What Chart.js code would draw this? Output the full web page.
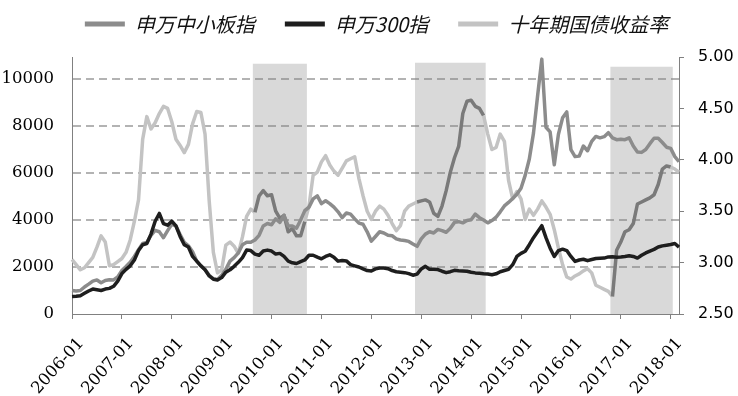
<!DOCTYPE html>
<html lang="zh">
<head>
  <meta charset="UTF-8" />
  <title>申万中小板指、申万300指与十年期国债收益率</title>
  <script src="https://cdn.jsdelivr.net/npm/chart.js@4"></script>
  <style>
    html, body { margin: 0; padding: 0; background: #fff; }
    #wrap { width: 738px; height: 396px; }
  </style>
</head>
<body>
  <div id="wrap"><canvas id="chart" width="738" height="396"></canvas></div>

  <script>
    // monthly categories, 2006-01 .. 2018-03
    const months = [];
    for (let y = 2006; y <= 2018; y++) {
      for (let m = 1; m <= 12; m++) {
        if (y === 2018 && m > 3) break;
        months.push(y + '-' + String(m).padStart(2, '0'));
      }
    }

    // 申万中小板指 (left axis)
    const smeIndex = [
      1000, 980, 1000, 1150, 1270, 1400, 1450, 1330, 1430, 1460, 1450, 1580,
      1850, 2020, 2200, 2450, 2740, 3000, 3050, 3350, 3560, 3500, 3250, 3550,
      3820, 3750, 3380, 3050, 2900, 2650, 2250, 2050, 1890, 1650, 1500, 1470,
      1650, 1900, 2250, 2400, 2600, 2950, 3050, 3050, 3150, 3350, 3750, 3850,
      3800, 4050, 3900, 4200, 3750, 3750, 3650, 4000, 4400, 4550, 4900, 5030,
      4700, 4820, 4700, 4550, 4350, 4100, 4300, 4250, 4050, 3870, 3820, 3500,
      3100, 3300, 3500, 3450, 3350, 3330, 3200, 3150, 3130, 3090, 2980, 2880,
      3200, 3400, 3500, 3450, 3600, 3550, 3480, 3650, 3900, 3930, 3880, 3980,
      4010, 4250, 4100, 4000, 3880, 3980, 4120, 4350, 4600, 4750, 4920, 5100,
      5350, 5900, 6600, 7700, 9300, 10850, 7950, 7750, 6350, 7650, 8350, 8600,
      7000, 6700, 6720, 7150, 6950, 7350, 7560, 7500, 7550, 7720, 7500, 7420,
      7440, 7420, 7500, 7150, 6900, 6880, 7000, 7250, 7480, 7480, 7300, 7100,
      7050, 6700, 6480
    ];

    // 申万300指 (left axis)
    const sw300 = [
      750, 760, 780, 880, 980, 1060, 1030, 1000, 1060, 1090, 1180, 1400,
      1720, 1900, 2050, 2300, 2700, 2950, 3000, 3400, 3950, 4280, 3850, 3780,
      3950, 3750, 3300, 2950, 2850, 2450, 2250, 2050, 1880, 1620, 1480, 1450,
      1550, 1780, 1880, 2030, 2200, 2400, 2720, 2700, 2550, 2500, 2680, 2720,
      2680, 2550, 2580, 2450, 2250, 2180, 2150, 2230, 2300, 2500, 2500, 2420,
      2350, 2450, 2520, 2420, 2250, 2280, 2260, 2100, 2050, 2000, 1920, 1850,
      1830, 1920, 1960, 1960, 1930, 1850, 1800, 1780, 1760, 1720, 1650, 1700,
      1920, 2030, 1900, 1900, 1890, 1820, 1760, 1800, 1860, 1840, 1830, 1820,
      1780, 1750, 1730, 1710, 1700, 1670, 1710, 1800, 1850, 1900, 2100, 2450,
      2580, 2670, 2950, 3250, 3500, 3760, 3250, 2800, 2450, 2700, 2760, 2700,
      2450, 2240, 2300, 2330, 2270, 2320, 2360, 2370, 2380, 2430, 2440, 2420,
      2430, 2450, 2480, 2450, 2380, 2500, 2600, 2680, 2750, 2850, 2900, 2930,
      2960, 3000, 2850
    ];

    // 十年期国债收益率, % (right axis)
    const bondYield = [
      3.03, 2.98, 2.93, 2.95, 3.00, 3.05, 3.15, 3.26, 3.20, 2.97, 2.98, 3.01,
      3.04, 3.10, 3.22, 3.40, 3.61, 4.20, 4.42, 4.30, 4.36, 4.45, 4.52, 4.50,
      4.37, 4.20, 4.14, 4.07, 4.15, 4.35, 4.47, 4.46, 4.25, 3.60, 3.10, 2.90,
      2.93, 3.17, 3.20, 3.16, 3.09, 3.25, 3.45, 3.52, 3.49, 3.65, 3.70, 3.65,
      3.66, 3.50, 3.43, 3.46, 3.30, 3.33, 3.26, 3.26, 3.40, 3.55, 3.85, 3.88,
      3.98, 4.04, 3.95, 3.89, 3.85, 3.92, 3.99, 4.01, 4.03, 3.82, 3.65, 3.50,
      3.42, 3.50, 3.55, 3.52, 3.46, 3.38, 3.31, 3.36, 3.50, 3.55, 3.57, 3.59,
      3.60, 3.61, 3.59, 3.48, 3.45, 3.55, 3.70, 3.88, 4.02, 4.13, 4.45, 4.57,
      4.58, 4.52, 4.50, 4.43, 4.25, 4.10, 4.12, 4.25, 4.18, 3.80, 3.62, 3.69,
      3.62, 3.42, 3.52, 3.46, 3.52, 3.60, 3.54, 3.47, 3.32, 3.14, 2.98, 2.86,
      2.84, 2.87, 2.89, 2.92, 2.94, 2.90, 2.78, 2.76, 2.74, 2.72, 2.67, 3.12,
      3.20, 3.30, 3.32, 3.38, 3.57, 3.59, 3.61, 3.63, 3.66, 3.76, 3.91, 3.94,
      3.93, 3.91, 3.88
    ];

    // shaded periods (first month, last month, top on left axis)
    const shadeFrom = ['2009-09', '2012-12', '2016-11'];
    const shadeTo = ['2010-09', '2014-04', '2018-01'];
    const shadeTop = [10650, 10700, 10520];

    const leftTicks = [0, 2000, 4000, 6000, 8000, 10000];
    const rightTicks = [2.5, 3.0, 3.5, 4.0, 4.5, 5.0];

    function shadeIndex(i) {
      for (let k = 0; k < shadeFrom.length; k++) {
        if (i >= months.indexOf(shadeFrom[k]) && i <= months.indexOf(shadeTo[k])) return k;
      }
      return -1;
    }

    // step area: full height inside a period, 0 outside
    const shadeData = months.map((m, i) => {
      const k = shadeIndex(i);
      return k >= 0 ? shadeTop[k] : 0;
    });

    const midGray = '#8c8c8c';
    const darkLine = '#1e1e1e';
    const lightGray = '#c3c3c3';
    const yieldInShade = '#7a7a7a';
    const axisColor = '#808080';

    const ctx = document.getElementById('chart').getContext('2d');

    const chart = new Chart(ctx, {
      type: 'line',
      data: {
        labels: months,
        datasets: [
          {
            label: '申万中小板指',
            data: smeIndex,
            yAxisID: 'y',
            borderColor: midGray,
            backgroundColor: midGray,
            borderWidth: 3.5,
            pointRadius: 0,
            borderJoinStyle: 'round',
            order: 1
          },
          {
            label: '申万300指',
            data: sw300,
            yAxisID: 'y',
            borderColor: darkLine,
            backgroundColor: darkLine,
            borderWidth: 3.5,
            pointRadius: 0,
            borderJoinStyle: 'round',
            order: 0
          },
          {
            label: '十年期国债收益率',
            data: bondYield,
            yAxisID: 'y1',
            borderColor: lightGray,
            backgroundColor: lightGray,
            borderWidth: 3.5,
            pointRadius: 0,
            borderJoinStyle: 'round',
            segment: {
              borderColor: c => (shadeIndex(c.p0DataIndex) >= 0 && shadeIndex(c.p1DataIndex) >= 0) ? yieldInShade : lightGray
            },
            order: 2
          },
          {
            label: 'shade',
            data: shadeData,
            yAxisID: 'y',
            stepped: 'middle',
            fill: 'origin',
            backgroundColor: 'rgba(128,128,128,0.3)',
            borderWidth: 0,
            pointRadius: 0,
            order: 3
          }
        ]
      },
      options: {
        responsive: false,
        animation: false,
        // negative right padding moves the legend centre right; y1 width compensates
        layout: { padding: { left: 0, right: -15, top: -16, bottom: 0 } },
        plugins: {
          legend: {
            position: 'top',
            labels: {
              boxWidth: 40,
              boxHeight: 5,
              padding: 30,
              color: '#111',
              font: { family: '"Noto Sans CJK SC", "Noto Sans", sans-serif', size: 20, style: 'italic' },
              generateLabels: c => Chart.defaults.plugins.legend.labels.generateLabels(c)
                .filter(item => item.datasetIndex < 3)
                .map(item => Object.assign(item, { lineWidth: 0 }))
                .sort((a, b) => a.datasetIndex - b.datasetIndex)
            }
          },
          // empty spacer between legend and plot
          title: { display: true, text: '', weight: 500, padding: 0, font: { size: 10, lineHeight: 1.3 } },
          tooltip: { enabled: false }
        },
        scales: {
          x: {
            type: 'category',
            offset: false,
            grid: { offset: false, drawOnChartArea: false, drawTicks: true, tickLength: 5, tickColor: axisColor },
            border: { display: true, color: axisColor, width: 1 },
            ticks: {
              autoSkip: false,
              minRotation: 48,
              maxRotation: 48,
              padding: 15,
              labelOffset: 9,
              color: '#000',
              font: { family: '"DejaVu Serif", serif', size: 16.5 }
            },
            afterBuildTicks: s => { s.ticks = s.ticks.filter(t => months[t.value].endsWith('-01')); },
            afterFit: s => { s.height = 82; }
          },
          y: {
            position: 'left',
            min: 0,
            max: 10940,
            grid: {
              drawTicks: false,
              lineWidth: 2,
              color: c => (c.tick && c.tick.value === 0) ? 'rgba(0,0,0,0)' : '#b3b3b3'
            },
            border: { display: true, color: axisColor, width: 1, dash: [8, 5] },
            ticks: {
              padding: 18,
              color: '#000',
              font: { family: '"DejaVu Serif", serif', size: 16.5 },
              callback: v => String(v)
            },
            afterBuildTicks: s => { s.ticks = leftTicks.map(v => ({ value: v })); },
            afterFit: s => { s.width = 72; }
          },
          y1: {
            position: 'right',
            min: 2.5,
            max: 5,
            grid: { drawOnChartArea: false, drawTicks: true, tickLength: 5, tickColor: axisColor },
            border: { display: true, color: axisColor, width: 1 },
            ticks: {
              padding: 14,
              color: '#000',
              font: { family: '"DejaVu Sans", sans-serif', size: 16 },
              callback: v => Number(v).toFixed(2)
            },
            afterBuildTicks: s => { s.ticks = rightTicks.map(v => ({ value: v })); },
            afterFit: s => { s.width = 74; }
          }
        }
      }
    });
  </script>
</body>
</html>
